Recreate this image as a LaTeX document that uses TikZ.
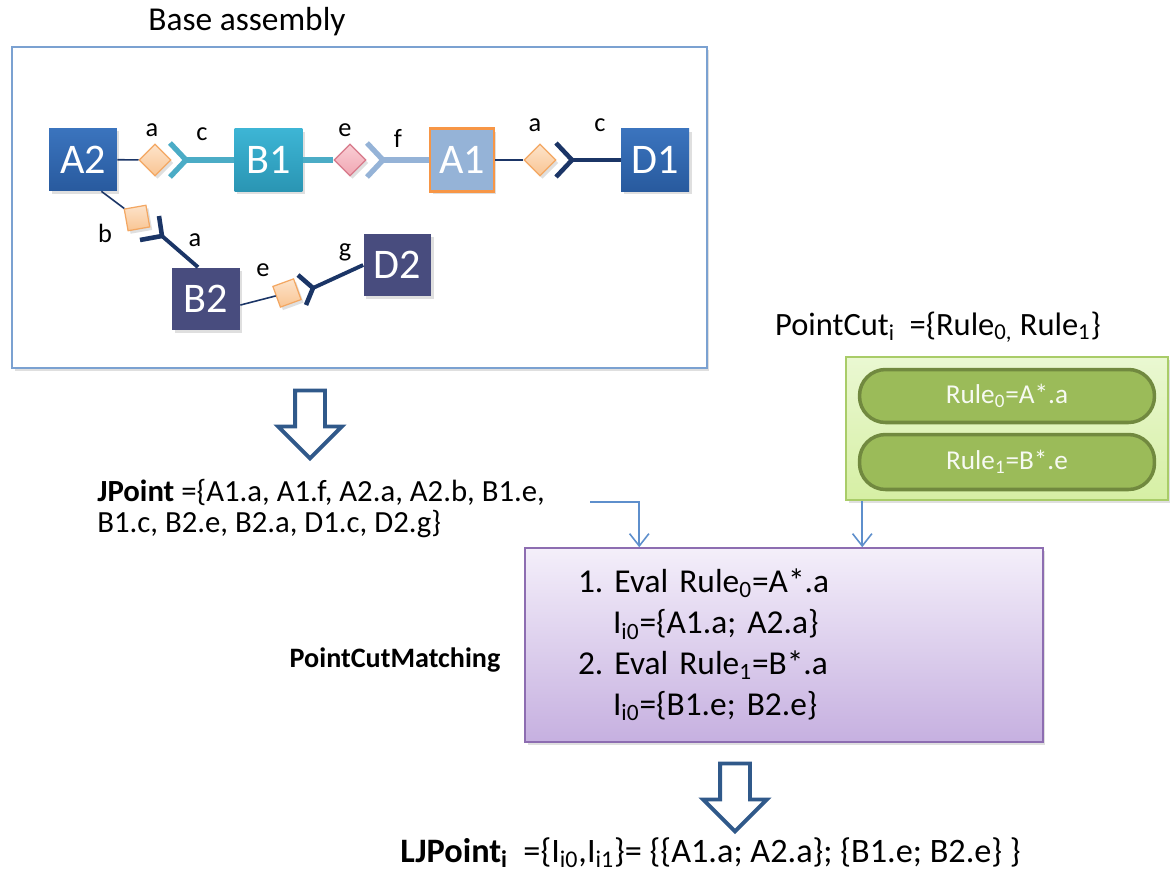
\documentclass[tikz,border=0pt]{standalone}
\usepackage{fontspec}
\setmainfont{Carlito}
\usetikzlibrary{shapes.geometric,shapes.arrows,arrows.meta,shadows}

\definecolor{blueT}{HTML}{3B74BE}
\definecolor{blueB}{HTML}{285A9E}
\definecolor{tealT}{HTML}{3DB5D5}
\definecolor{tealB}{HTML}{2A95B3}
\definecolor{paleC}{HTML}{95B3D7}
\definecolor{slateC}{HTML}{484C7E}
\definecolor{navyC}{HTML}{1B3566}
\definecolor{tealC}{HTML}{4BACC6}
\definecolor{orangeC}{HTML}{F79646}
\definecolor{portT}{HTML}{FDE3CA}
\definecolor{portB}{HTML}{F9C593}
\definecolor{portL}{HTML}{F3A762}
\definecolor{pinkT}{HTML}{F9CDD4}
\definecolor{pinkB}{HTML}{F1A7B3}
\definecolor{pinkL}{HTML}{D7798A}
\definecolor{frameC}{HTML}{7BA1D1}
\definecolor{linkC}{HTML}{5E8FCC}
\definecolor{arrowC}{HTML}{30598A}
\definecolor{greenT}{HTML}{EAF8D2}
\definecolor{greenB}{HTML}{D6EFA4}
\definecolor{greenL}{HTML}{A9CC68}
\definecolor{ruleC}{HTML}{9BBB59}
\definecolor{ruleL}{HTML}{71893F}
\definecolor{purpleT}{HTML}{F4EFFA}
\definecolor{purpleB}{HTML}{C6B0E0}
\definecolor{purpleL}{HTML}{8D6DB1}

\begin{document}
\begin{tikzpicture}[x=0.02cm, y=-0.02cm]
   \tikzstyle{every node}=[inner sep=0pt, execute at begin node=\frenchspacing]
   \tikzstyle{softshadow}=[drop shadow={opacity=0.25, shadow xshift=0.05cm, shadow yshift=-0.06cm}]
   \tikzstyle{comp}=[rectangle, minimum width=1.36cm, minimum height=1.26cm, text=white, font=\fontsize{24}{26}\selectfont, softshadow]
   \tikzstyle{bluecomp}=[comp, top color=blueT, bottom color=blueB]
   \tikzstyle{slatecomp}=[comp, fill=slateC]
   \tikzstyle{port}=[diamond, aspect=1, minimum size=0.64cm, line width=0.7pt, softshadow]
   \tikzstyle{sqport}=[rectangle, minimum size=0.44cm, line width=0.7pt, draw=portL, top color=portT, bottom color=portB, softshadow]
   \tikzstyle{lbl}=[font=\fontsize{15}{17}\selectfont]
   \tikzstyle{thinline}=[draw=navyC, line width=0.9pt]
   \tikzstyle{navyline}=[draw=navyC, line width=2.2pt]
   \tikzstyle{tealline}=[draw=tealC, line width=3pt]
   \tikzstyle{paleline}=[draw=paleC, line width=3pt]
   \tikzstyle{link}=[draw=linkC, line width=0.9pt, -{Straight Barb[length=7pt, width=11pt]}]
   \tikzstyle{bigarrow}=[single arrow, draw=arrowC, line width=2.2pt, fill=white, rotate=-90, minimum height=1.36cm, inner sep=0.26cm, single arrow head extend=0.34cm]
   \tikzstyle{rule}=[rectangle, rounded corners=0.52cm, draw=ruleL, line width=2pt, fill=ruleC, minimum width=5.9cm, minimum height=1.06cm, text=white!92!ruleC, font=\fontsize{15.5}{17}\selectfont]

\useasboundingbox (0,0) rectangle (1170,872);

% base assembly
\node[font=\fontsize{19}{21}\selectfont] (title) at (247,22) {Base assembly};
\node[draw=frameC, line width=0.9pt, fill=white, minimum width=13.9cm, minimum height=6.42cm, softshadow] (base) at (359.5,207.5) {};

\node[bluecomp] (A2) at (83,159.5) {A2};
\node[comp, top color=tealT, bottom color=tealB] (B1) at (268.5,160) {B1};
\node[comp, fill=paleC, draw=orangeC, line width=1.2pt, minimum width=1.28cm] (A1) at (462,160) {A1};
\node[bluecomp] (D1) at (655,160) {D1};
\node[slatecomp] (B2) at (206,299) {B2};
\node[slatecomp] (D2) at (397.5,265) {D2};

\node[port, draw=portL, top color=portT, bottom color=portB] (pa1) at (155,160) {};
\node[port, draw=pinkL, top color=pinkT, bottom color=pinkB] (pe1) at (350,160) {};
\node[port, draw=portL, top color=portT, bottom color=portB] (pa2) at (540,160) {};
\node[sqport, rotate=10] (pb) at (137,218) {};
\node[sqport, rotate=20] (pe2) at (287,293) {};

\coordinate (fc1) at (186,160);
\coordinate (ff1) at (383,160);
\coordinate (fc2) at (572,160);
\coordinate (fa3) at (162,236);
\coordinate (fg) at (313,288);

\draw[thinline] (A2) -- (pa1);
\draw[tealline] (fc1) ++(-16,-17) -- (fc1) -- ++(-16,17);
\draw[tealline] (fc1) -- (B1);
\draw[tealline, line width=3.4pt] (B1) -- (pe1);
\draw[paleline] (ff1) ++(-16,-17) -- (ff1) -- ++(-16,17);
\draw[paleline] (ff1) -- (A1);
\draw[thinline] (A1) -- (pa2);
\draw[navyline, line width=2.6pt] (fc2) ++(-16,-17) -- (fc2) -- ++(-16,17);
\draw[navyline] (fc2) -- (D1);

\draw[thinline] (A2.-60) -- (pb);
\draw[navyline, line width=2.6pt] (fa3) ++(-3,-20) -- (fa3) -- ++(-22,4);
\draw[navyline] (fa3) -- ([xshift=-0.16cm]B2.north);
\draw[thinline] (B2.-10) -- (pe2);
\draw[navyline, line width=2.6pt] (fg) ++(-15,-13) -- (fg) -- ++(-7,17);
\draw[navyline] (fg) -- (D2.west);

\node[lbl] (la1) at (152,130) {a};
\node[lbl] (lc1) at (202,134) {c};
\node[lbl] (le1) at (345,130) {e};
\node[lbl] (lf1) at (398,138) {f};
\node[lbl] (la2) at (535,125) {a};
\node[lbl] (lc2) at (600,125) {c};
\node[lbl] (lb) at (105,233) {b};
\node[lbl] (la3) at (195,240) {a};
\node[lbl] (le2) at (263,270) {e};
\node[lbl] (lg) at (345,252) {g};

% join points
\node[bigarrow] (down1) at (310,417) {};
\node[font=\fontsize{17.5}{17.5}\selectfont, align=left, anchor=north west] (jpoint) at (97,479)
   {\textbf{JPoint} =\{A1.a, A1.f, A2.a, A2.b, B1.e,\\B1.c, B2.e, B2.a, D1.c, D2.g\}};
\coordinate (jp) at (590,502);

% point cut
\node[font=\fontsize{18.5}{20}\selectfont] (pcut) at (938,327) {PointCut\textsubscript{i} \ =\{Rule\textsubscript{0,} Rule\textsubscript{1}\}};
\node[draw=greenL, line width=0.9pt, top color=greenT, bottom color=greenB, minimum width=6.44cm, minimum height=2.86cm, softshadow] (rules) at (1007,428.5) {};
\node[rule] (rule0) at (1007,396) {Rule\textsubscript{0}=A*.a};
\node[rule, minimum height=1.1cm] (rule1) at (1007,462) {Rule\textsubscript{1}=B*.e};

% matching
\node[draw=purpleL, line width=0.9pt, top color=purpleT, bottom color=purpleB, minimum height=3.88cm, text width=8.24cm, inner xsep=1.06cm, align=left, font=\fontsize{19}{23.3}\selectfont, softshadow] (match) at (784,645)
   {1. Eval Rule\textsubscript{0}=A*.a\\\hspace*{0.7cm}I\textsubscript{i0}=\{A1.a; A2.a\}\\2. Eval Rule\textsubscript{1}=B*.a\\\hspace*{0.7cm}I\textsubscript{i0}=\{B1.e; B2.e\}};
\node[font=\bfseries\fontsize{16}{18}\selectfont] (pcm) at (395,660) {PointCutMatching};

\draw[link] (jp) -| ([xshift=2.3cm]match.north west);
\draw[link] ([xshift=0.34cm]rules.south west) -- ([xshift=0.34cm]rules.south west |- match.north);

\node[bigarrow] (down2) at (735,790) {};
\node[font=\fontsize{19.5}{21}\selectfont, anchor=base west] (ljpoint) at (400,862)
   {\textbf{LJPoint\textsubscript{i}} \ =\{I\textsubscript{i0},I\textsubscript{i1}\}= \{\{A1.a; A2.a\}; \{B1.e; B2.e\} \}};
\end{tikzpicture}
\end{document}
